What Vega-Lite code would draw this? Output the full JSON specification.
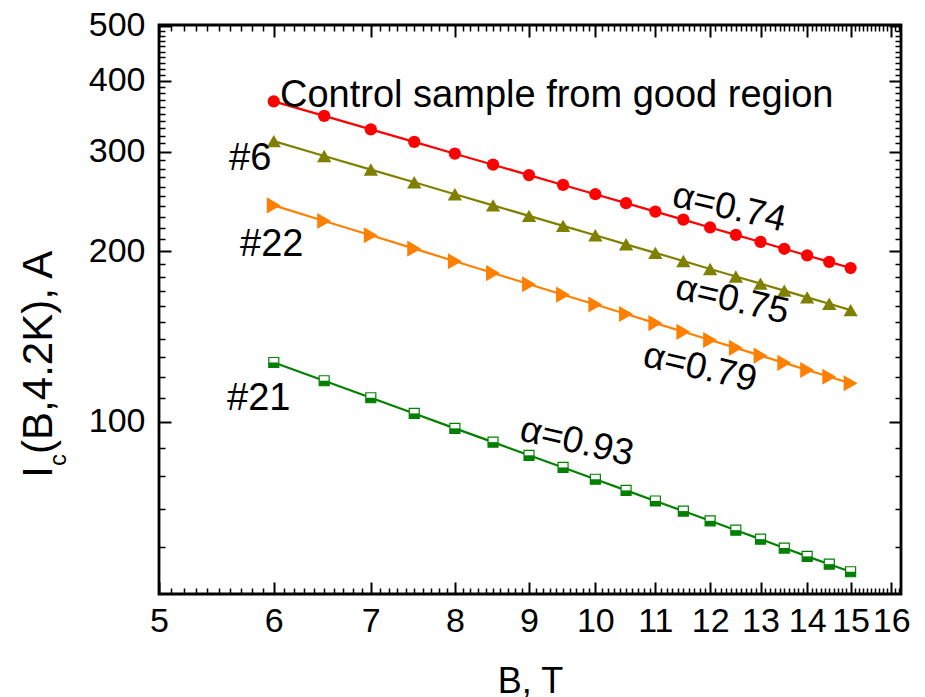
{
  "$schema": "https://vega.github.io/schema/vega-lite/v6.json",
  "width": 742,
  "height": 569,
  "autosize": {"type": "none"},
  "padding": {"left": 159, "top": 25, "right": 24, "bottom": 103},
  "background": "white",
  "config": {
    "font": "Liberation Sans",
    "view": {"stroke": "black", "strokeWidth": 2.8},
    "axis": {"domain": false, "grid": false, "tickColor": "black", "labelColor": "black", "titleColor": "black", "titleFontWeight": "normal"}
  },
  "datasets": {
    "curves": [
      {"series": "Control", "B": 6, "Ic": 368},
      {"series": "Control", "B": 6.5, "Ic": 346.9},
      {"series": "Control", "B": 7, "Ic": 328.3},
      {"series": "Control", "B": 7.5, "Ic": 312.0},
      {"series": "Control", "B": 8, "Ic": 297.4},
      {"series": "Control", "B": 8.5, "Ic": 284.4},
      {"series": "Control", "B": 9, "Ic": 272.6},
      {"series": "Control", "B": 9.5, "Ic": 261.9},
      {"series": "Control", "B": 10, "Ic": 252.2},
      {"series": "Control", "B": 10.5, "Ic": 243.2},
      {"series": "Control", "B": 11, "Ic": 235.0},
      {"series": "Control", "B": 11.5, "Ic": 227.4},
      {"series": "Control", "B": 12, "Ic": 220.3},
      {"series": "Control", "B": 12.5, "Ic": 213.8},
      {"series": "Control", "B": 13, "Ic": 207.7},
      {"series": "Control", "B": 13.5, "Ic": 202.0},
      {"series": "Control", "B": 14, "Ic": 196.6},
      {"series": "Control", "B": 14.5, "Ic": 191.5},
      {"series": "Control", "B": 15, "Ic": 186.8},
      {"series": "#6", "B": 6, "Ic": 313},
      {"series": "#6", "B": 6.5, "Ic": 294.7},
      {"series": "#6", "B": 7, "Ic": 278.8},
      {"series": "#6", "B": 7.5, "Ic": 264.8},
      {"series": "#6", "B": 8, "Ic": 252.2},
      {"series": "#6", "B": 8.5, "Ic": 241.0},
      {"series": "#6", "B": 9, "Ic": 230.9},
      {"series": "#6", "B": 9.5, "Ic": 221.7},
      {"series": "#6", "B": 10, "Ic": 213.4},
      {"series": "#6", "B": 10.5, "Ic": 205.7},
      {"series": "#6", "B": 11, "Ic": 198.7},
      {"series": "#6", "B": 11.5, "Ic": 192.2},
      {"series": "#6", "B": 12, "Ic": 186.1},
      {"series": "#6", "B": 12.5, "Ic": 180.5},
      {"series": "#6", "B": 13, "Ic": 175.3},
      {"series": "#6", "B": 13.5, "Ic": 170.4},
      {"series": "#6", "B": 14, "Ic": 165.8},
      {"series": "#6", "B": 14.5, "Ic": 161.5},
      {"series": "#6", "B": 15, "Ic": 157.4},
      {"series": "#22", "B": 6, "Ic": 241},
      {"series": "#22", "B": 6.5, "Ic": 226.2},
      {"series": "#22", "B": 7, "Ic": 213.4},
      {"series": "#22", "B": 7.5, "Ic": 202.1},
      {"series": "#22", "B": 8, "Ic": 192.0},
      {"series": "#22", "B": 8.5, "Ic": 183.0},
      {"series": "#22", "B": 9, "Ic": 174.9},
      {"series": "#22", "B": 9.5, "Ic": 167.6},
      {"series": "#22", "B": 10, "Ic": 161.0},
      {"series": "#22", "B": 10.5, "Ic": 154.9},
      {"series": "#22", "B": 11, "Ic": 149.3},
      {"series": "#22", "B": 11.5, "Ic": 144.1},
      {"series": "#22", "B": 12, "Ic": 139.4},
      {"series": "#22", "B": 12.5, "Ic": 135.0},
      {"series": "#22", "B": 13, "Ic": 130.8},
      {"series": "#22", "B": 13.5, "Ic": 127.0},
      {"series": "#22", "B": 14, "Ic": 123.4},
      {"series": "#22", "B": 14.5, "Ic": 120.0},
      {"series": "#22", "B": 15, "Ic": 116.9},
      {"series": "#21", "B": 6, "Ic": 127.2},
      {"series": "#21", "B": 6.5, "Ic": 118.1},
      {"series": "#21", "B": 7, "Ic": 110.2},
      {"series": "#21", "B": 7.5, "Ic": 103.4},
      {"series": "#21", "B": 8, "Ic": 97.3},
      {"series": "#21", "B": 8.5, "Ic": 92.0},
      {"series": "#21", "B": 9, "Ic": 87.2},
      {"series": "#21", "B": 9.5, "Ic": 83.0},
      {"series": "#21", "B": 10, "Ic": 79.1},
      {"series": "#21", "B": 10.5, "Ic": 75.6},
      {"series": "#21", "B": 11, "Ic": 72.4},
      {"series": "#21", "B": 11.5, "Ic": 69.5},
      {"series": "#21", "B": 12, "Ic": 66.8},
      {"series": "#21", "B": 12.5, "Ic": 64.3},
      {"series": "#21", "B": 13, "Ic": 62.0},
      {"series": "#21", "B": 13.5, "Ic": 59.8},
      {"series": "#21", "B": 14, "Ic": 57.8},
      {"series": "#21", "B": 14.5, "Ic": 56.0},
      {"series": "#21", "B": 15, "Ic": 54.3}
    ],
    "names": [
      {"B": 6.06, "Ic": 359.5, "label": "Control sample from good region"},
      {"B": 5.588, "Ic": 278.3, "label": "#6"},
      {"B": 5.687, "Ic": 196.1, "label": "#22"},
      {"B": 5.571, "Ic": 104.8, "label": "#21"}
    ],
    "alphas": [
      {"B": 12.37, "Ic": 238.5, "label": "α=0.74"},
      {"B": 12.43, "Ic": 163.9, "label": "α=0.75"},
      {"B": 11.81, "Ic": 124.4, "label": "α=0.79"},
      {"B": 9.71, "Ic": 92.0, "label": "α=0.93"}
    ],
    "ytitle": [
      {"B": 4.218, "Ic": 79.55, "part": "I"},
      {"B": 4.218, "Ic": 87.7, "part": "(B,4.2K), A"}
    ],
    "ysub": [
      {"B": 4.313, "Ic": 83.5, "part": "c"}
    ]
  },
  "resolve": {"axis": {"x": "independent", "y": "independent"}},
  "layer": [
    {
      "data": {"name": "curves"},
      "mark": {"type": "line", "strokeWidth": 2.2},
      "encoding": {
        "x": {"field": "B", "type": "quantitative", "scale": {"type": "log", "domain": [5, 16.25], "nice": false},
          "axis": {"orient": "bottom", "values": [5, 6, 7, 8, 9, 10, 11, 12, 13, 14, 15, 16], "format": "d", "tickSize": -12, "tickWidth": 2, "labelFontSize": 34, "labelPadding": 22, "labelFlush": false, "labelOverlap": false, "labelBound": false, "title": "B, T", "titleFontSize": 36, "titlePadding": 26}},
        "y": {"field": "Ic", "type": "quantitative", "scale": {"type": "log", "domain": [49.6, 502], "nice": false},
          "axis": {"orient": "left", "values": [100, 200, 300, 400, 500], "format": "d", "tickSize": -12, "tickWidth": 2, "labelFontSize": 34, "labelPadding": 26, "labelFlush": false, "labelOverlap": false, "labelBound": false, "title": null}},
        "color": {"field": "series", "type": "nominal", "scale": {"domain": ["Control", "#6", "#22", "#21"], "range": ["#ff0000", "#808000", "#ff8000", "#008000"]}, "legend": null},
        "detail": {"field": "series"}
      }
    },
    {
      "data": {"name": "curves"},
      "transform": [{"filter": "datum.series !== '#21'"}],
      "mark": {"type": "point", "filled": true, "opacity": 1},
      "encoding": {
        "x": {"field": "B", "type": "quantitative", "scale": {"type": "log", "domain": [5, 16.25], "nice": false},
          "axis": {"orient": "bottom", "values": [5.1,5.2,5.3,5.4,5.5,5.6,5.7,5.8,5.9,6.1,6.2,6.3,6.4,6.5,6.6,6.7,6.8,6.9,7.1,7.2,7.3,7.4,7.5,7.6,7.7,7.8,7.9,8.1,8.2,8.3,8.4,8.5,8.6,8.7,8.8,8.9,9.1,9.2,9.3,9.4,9.5,9.6,9.7,9.8,9.9,10.1,10.2,10.3,10.4,10.5,10.6,10.7,10.8,10.9,11.1,11.2,11.3,11.4,11.5,11.6,11.7,11.8,11.9,12.1,12.2,12.3,12.4,12.5,12.6,12.7,12.8,12.9,13.1,13.2,13.3,13.4,13.5,13.6,13.7,13.8,13.9,14.1,14.2,14.3,14.4,14.5,14.6,14.7,14.8,14.9,15.1,15.2,15.3,15.4,15.5,15.6,15.7,15.8,15.9,16.1,16.2], "tickSize": -6, "tickWidth": 1.5, "labels": false, "title": null}},
        "y": {"field": "Ic", "type": "quantitative", "scale": {"type": "log", "domain": [49.6, 502], "nice": false},
          "axis": {"orient": "left", "values": [60,70,80,90,110,120,130,140,150,160,170,180,190,210,220,230,240,250,260,270,280,290,310,320,330,340,350,360,370,380,390,410,420,430,440,450,460,470,480,490], "tickSize": -6, "tickWidth": 1.5, "labels": false, "title": null}},
        "color": {"field": "series", "type": "nominal", "scale": {"domain": ["Control", "#6", "#22", "#21"], "range": ["#ff0000", "#808000", "#ff8000", "#008000"]}, "legend": null},
        "shape": {"field": "series", "type": "nominal", "scale": {"domain": ["Control", "#6", "#22"], "range": ["circle", "triangle-up", "triangle-right"]}, "legend": null},
        "size": {"field": "series", "type": "nominal", "scale": {"domain": ["Control", "#6", "#22"], "range": [150, 260, 260]}, "legend": null}
      }
    },
    {
      "data": {"name": "curves"},
      "transform": [{"filter": "datum.series === '#21'"}],
      "mark": {"type": "point", "shape": "square", "filled": true, "fill": "white", "stroke": "#008000", "strokeWidth": 1.2, "opacity": 1, "size": 100},
      "encoding": {
        "x": {"field": "B", "type": "quantitative", "scale": {"type": "log", "domain": [5, 16.25], "nice": false},
          "axis": {"orient": "top", "values": [5, 6, 7, 8, 9, 10, 11, 12, 13, 14, 15, 16], "tickSize": -12, "tickWidth": 2, "labels": false, "title": null}},
        "y": {"field": "Ic", "type": "quantitative", "scale": {"type": "log", "domain": [49.6, 502], "nice": false},
          "axis": {"orient": "right", "values": [100, 200, 300, 400, 500], "tickSize": -12, "tickWidth": 2, "labels": false, "title": null}}
      }
    },
    {
      "data": {"name": "curves"},
      "transform": [{"filter": "datum.series === '#21'"}],
      "mark": {"type": "point", "shape": "M-1,0L1,0L1,1L-1,1Z", "filled": true, "fill": "#008000", "strokeWidth": 0, "opacity": 1, "size": 100},
      "encoding": {
        "x": {"field": "B", "type": "quantitative", "scale": {"type": "log", "domain": [5, 16.25], "nice": false},
          "axis": {"orient": "top", "values": [5.1,5.2,5.3,5.4,5.5,5.6,5.7,5.8,5.9,6.1,6.2,6.3,6.4,6.5,6.6,6.7,6.8,6.9,7.1,7.2,7.3,7.4,7.5,7.6,7.7,7.8,7.9,8.1,8.2,8.3,8.4,8.5,8.6,8.7,8.8,8.9,9.1,9.2,9.3,9.4,9.5,9.6,9.7,9.8,9.9,10.1,10.2,10.3,10.4,10.5,10.6,10.7,10.8,10.9,11.1,11.2,11.3,11.4,11.5,11.6,11.7,11.8,11.9,12.1,12.2,12.3,12.4,12.5,12.6,12.7,12.8,12.9,13.1,13.2,13.3,13.4,13.5,13.6,13.7,13.8,13.9,14.1,14.2,14.3,14.4,14.5,14.6,14.7,14.8,14.9,15.1,15.2,15.3,15.4,15.5,15.6,15.7,15.8,15.9,16.1,16.2], "tickSize": -6, "tickWidth": 1.5, "labels": false, "title": null}},
        "y": {"field": "Ic", "type": "quantitative", "scale": {"type": "log", "domain": [49.6, 502], "nice": false},
          "axis": {"orient": "right", "values": [60,70,80,90,110,120,130,140,150,160,170,180,190,210,220,230,240,250,260,270,280,290,310,320,330,340,350,360,370,380,390,410,420,430,440,450,460,470,480,490], "tickSize": -6, "tickWidth": 1.5, "labels": false, "title": null}}
      }
    },
    {
      "data": {"name": "names"},
      "mark": {"type": "text", "align": "left", "baseline": "alphabetic", "fontSize": 38, "color": "black"},
      "encoding": {
        "x": {"field": "B", "type": "quantitative", "scale": {"type": "log", "domain": [5, 16.25], "nice": false}, "axis": null},
        "y": {"field": "Ic", "type": "quantitative", "scale": {"type": "log", "domain": [49.6, 502], "nice": false}, "axis": null},
        "text": {"field": "label"}
      }
    },
    {
      "data": {"name": "alphas"},
      "mark": {"type": "text", "align": "center", "baseline": "middle", "fontSize": 37, "angle": 13, "color": "black"},
      "encoding": {
        "x": {"field": "B", "type": "quantitative", "scale": {"type": "log", "domain": [5, 16.25], "nice": false}, "axis": null},
        "y": {"field": "Ic", "type": "quantitative", "scale": {"type": "log", "domain": [49.6, 502], "nice": false}, "axis": null},
        "text": {"field": "label"}
      }
    },
    {
      "data": {"name": "ytitle"},
      "mark": {"type": "text", "align": "left", "baseline": "alphabetic", "fontSize": 42, "angle": 270, "color": "black"},
      "encoding": {
        "x": {"field": "B", "type": "quantitative", "scale": {"type": "log", "domain": [5, 16.25], "nice": false}, "axis": null},
        "y": {"field": "Ic", "type": "quantitative", "scale": {"type": "log", "domain": [49.6, 502], "nice": false}, "axis": null},
        "text": {"field": "part"}
      }
    },
    {
      "data": {"name": "ysub"},
      "mark": {"type": "text", "align": "left", "baseline": "alphabetic", "fontSize": 24, "angle": 270, "color": "black"},
      "encoding": {
        "x": {"field": "B", "type": "quantitative", "scale": {"type": "log", "domain": [5, 16.25], "nice": false}, "axis": null},
        "y": {"field": "Ic", "type": "quantitative", "scale": {"type": "log", "domain": [49.6, 502], "nice": false}, "axis": null},
        "text": {"field": "part"}
      }
    }
  ]
}
